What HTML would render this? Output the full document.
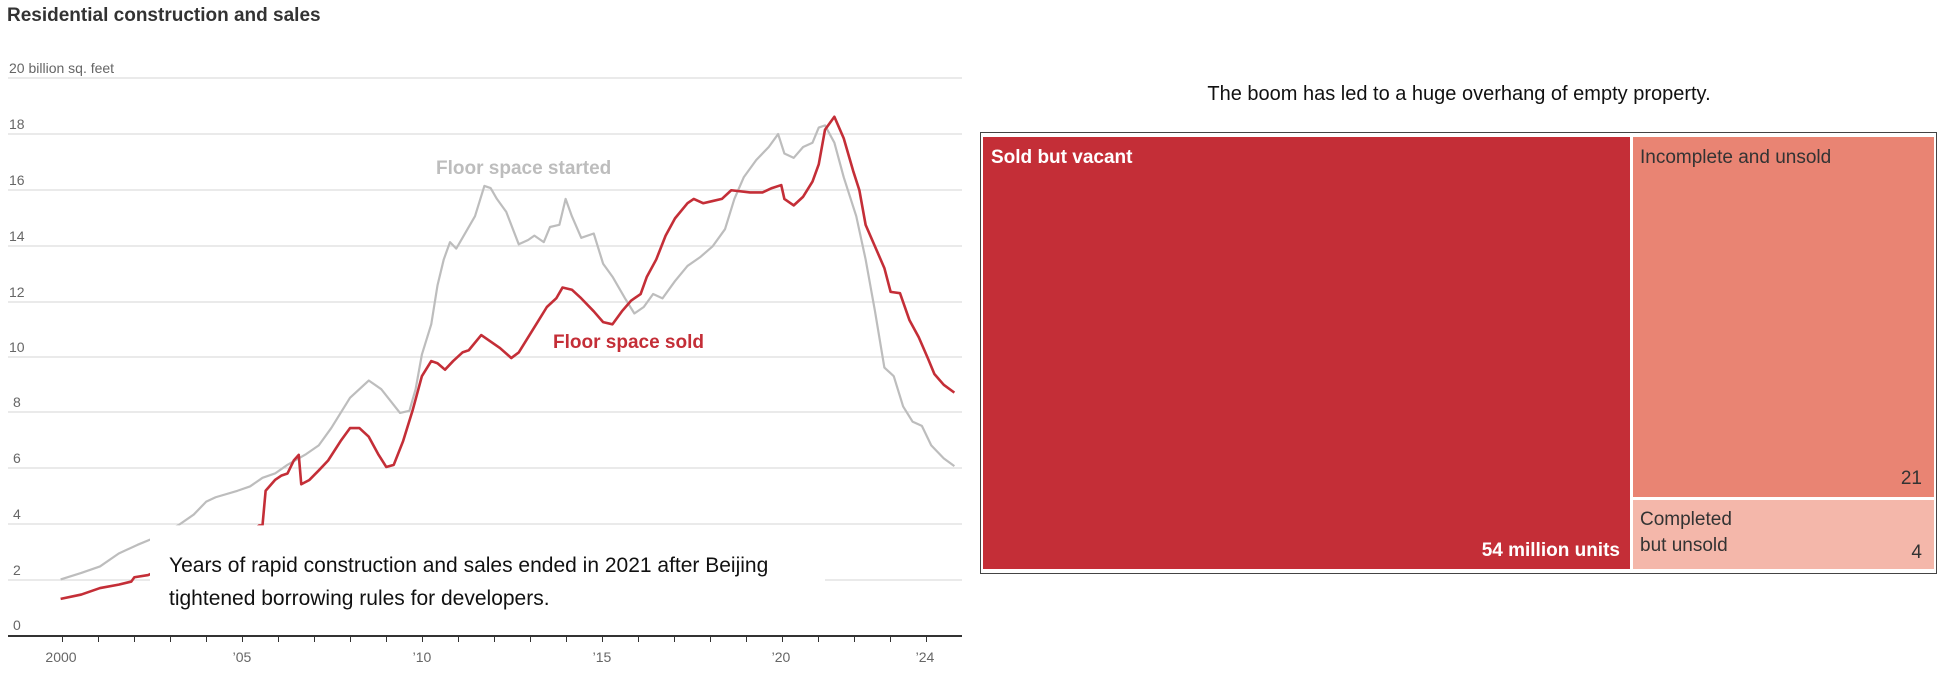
<!DOCTYPE html>
<html><head><meta charset="utf-8"><style>
body{margin:0;width:1947px;height:678px;background:#fff;position:relative;overflow:hidden;font-family:"Liberation Sans Narrow","Liberation Sans",sans-serif;}
.t{position:absolute;white-space:nowrap;}
</style></head><body>
<div class="t" style="left:7px;top:5px;font-size:19px;font-weight:bold;color:#333;">Residential construction and sales</div>
<svg style="position:absolute;left:0;top:0" width="980" height="678">
<g stroke="#ddd" stroke-width="1.3">
<line x1="8" x2="962" y1="78" y2="78"/><line x1="8" x2="962" y1="134" y2="134"/><line x1="8" x2="962" y1="190" y2="190"/><line x1="8" x2="962" y1="246" y2="246"/><line x1="8" x2="962" y1="302" y2="302"/><line x1="8" x2="962" y1="357" y2="357"/><line x1="8" x2="962" y1="412" y2="412"/><line x1="8" x2="962" y1="468" y2="468"/><line x1="8" x2="962" y1="524" y2="524"/><line x1="8" x2="962" y1="580" y2="580"/>
</g>
<g font-size="14" fill="#666" font-family="Liberation Sans Narrow,Liberation Sans,sans-serif">
<text x="9" y="73">20 billion sq. feet</text>
<text x="9" y="129">18</text><text x="9" y="185">16</text><text x="9" y="241">14</text><text x="9" y="297">12</text><text x="9" y="352">10</text><text x="13" y="407">8</text><text x="13" y="463">6</text><text x="13" y="519">4</text><text x="13" y="575">2</text><text x="13" y="630">0</text>
</g>
</svg>
<svg style="position:absolute;left:0;top:0" width="980" height="678" viewBox="0 0 1568 1568" preserveAspectRatio="none">
<polyline fill="none" stroke="#bdbdbd" stroke-width="2.2" vector-effect="non-scaling-stroke" stroke-linejoin="round" points="97,1340 130,1325 160,1310 190,1280 220,1260 245,1245 285,1215 310,1190 330,1160 345,1150 380,1135 400,1125 420,1105 440,1095 460,1075 490,1050 510,1030 530,990 560,920 590,880 610,900 640,955 655,950 665,900 675,820 690,750 700,660 710,600 720,560 730,575 740,550 760,500 775,430 785,435 795,460 810,490 830,565 845,555 855,545 870,560 880,525 895,520 905,460 915,500 930,550 950,540 965,610 980,640 1000,690 1015,725 1030,710 1045,680 1060,690 1080,650 1100,615 1120,595 1140,570 1160,530 1175,460 1190,410 1210,370 1230,340 1245,310 1255,355 1270,365 1285,340 1300,330 1310,295 1320,290 1335,330 1350,410 1370,500 1385,600 1400,720 1415,850 1430,870 1445,940 1460,975 1475,985 1490,1030 1510,1060 1527,1078"/>
<polyline fill="none" stroke="#c42e37" stroke-width="2.6" vector-effect="non-scaling-stroke" stroke-linejoin="round" points="97,1385 130,1375 160,1360 190,1352 210,1345 215,1335 237,1330 300,1290 380,1250 415,1215 420,1215 425,1135 440,1110 450,1100 460,1095 470,1065 478,1052 482,1120 495,1110 510,1088 525,1065 545,1020 560,990 575,990 590,1010 605,1050 618,1080 630,1075 645,1020 660,950 675,870 690,835 700,840 712,855 725,835 740,815 750,810 770,775 785,790 800,805 818,828 830,815 845,780 860,745 875,710 890,690 900,665 915,670 930,690 950,720 965,745 980,750 995,720 1010,695 1025,680 1035,640 1050,600 1065,545 1080,505 1100,470 1110,460 1125,470 1140,465 1155,460 1170,440 1200,445 1220,445 1235,435 1250,428 1255,460 1270,475 1285,455 1300,420 1310,380 1320,300 1335,270 1350,320 1365,395 1375,440 1385,520 1400,570 1415,620 1425,675 1440,678 1455,740 1470,780 1485,830 1495,865 1510,890 1527,908"/>
<rect x="240" y="1215" width="1080" height="225" fill="#fff"/>
</svg>
<svg style="position:absolute;left:0;top:0" width="980" height="678">
<line x1="8" x2="962" y1="636" y2="636" stroke="#333" stroke-width="2"/>
<g stroke="#333" stroke-width="1">
<line x1="62.5" x2="62.5" y1="636" y2="642"/><line x1="98.5" x2="98.5" y1="636" y2="642"/><line x1="134.5" x2="134.5" y1="636" y2="642"/><line x1="170.5" x2="170.5" y1="636" y2="642"/><line x1="206.5" x2="206.5" y1="636" y2="642"/><line x1="242.5" x2="242.5" y1="636" y2="642"/><line x1="278.5" x2="278.5" y1="636" y2="642"/><line x1="314.5" x2="314.5" y1="636" y2="642"/><line x1="350.5" x2="350.5" y1="636" y2="642"/><line x1="386.5" x2="386.5" y1="636" y2="642"/><line x1="422.5" x2="422.5" y1="636" y2="642"/><line x1="458.5" x2="458.5" y1="636" y2="642"/><line x1="494.5" x2="494.5" y1="636" y2="642"/><line x1="530.5" x2="530.5" y1="636" y2="642"/><line x1="566.5" x2="566.5" y1="636" y2="642"/><line x1="602.5" x2="602.5" y1="636" y2="642"/><line x1="638.5" x2="638.5" y1="636" y2="642"/><line x1="674.5" x2="674.5" y1="636" y2="642"/><line x1="710.5" x2="710.5" y1="636" y2="642"/><line x1="746.5" x2="746.5" y1="636" y2="642"/><line x1="782.5" x2="782.5" y1="636" y2="642"/><line x1="818.5" x2="818.5" y1="636" y2="642"/><line x1="854.5" x2="854.5" y1="636" y2="642"/><line x1="890.5" x2="890.5" y1="636" y2="642"/><line x1="926.5" x2="926.5" y1="636" y2="642"/>
</g>
<g font-size="14" fill="#666" text-anchor="middle" font-family="Liberation Sans Narrow,Liberation Sans,sans-serif">
<text x="61" y="662">2000</text><text x="242" y="662">’05</text><text x="422" y="662">’10</text><text x="602" y="662">’15</text><text x="781" y="662">’20</text><text x="925" y="662">’24</text>
</g>
<text x="436" y="174" font-size="19" font-weight="bold" fill="#bdbdbd" font-family="Liberation Sans Narrow,Liberation Sans,sans-serif">Floor space started</text>
<text x="553" y="348" font-size="19" font-weight="bold" fill="#c42e37" font-family="Liberation Sans Narrow,Liberation Sans,sans-serif">Floor space sold</text>
<text x="169" y="572" font-size="21" fill="#111" font-family="Liberation Sans Narrow,Liberation Sans,sans-serif">Years of rapid construction and sales ended in 2021 after Beijing</text>
<text x="169" y="605" font-size="21" fill="#111" font-family="Liberation Sans Narrow,Liberation Sans,sans-serif">tightened borrowing rules for developers.</text>
</svg>
<div class="t" style="left:1190px;top:83px;width:538px;text-align:center;font-size:20px;color:#111;">The boom has led to a huge overhang of empty property.</div>
<div style="position:absolute;left:980px;top:132px;width:955px;height:440px;border:1.5px solid #444;"></div>
<div style="position:absolute;left:983px;top:137px;width:647px;height:432px;background:#c42e37;"></div>
<div style="position:absolute;left:1633px;top:137px;width:301px;height:360px;background:#e98473;"></div>
<div style="position:absolute;left:1633px;top:500px;width:301px;height:69px;background:#f4b7aa;"></div>
<div class="t" style="left:991px;top:147px;font-size:19px;font-weight:bold;color:#fff;">Sold but vacant</div>
<div class="t" style="left:1400px;top:540px;width:220px;text-align:right;font-size:19px;font-weight:bold;color:#fff;">54 million units</div>
<div class="t" style="left:1640px;top:147px;font-size:19px;color:#333;">Incomplete and unsold</div>
<div class="t" style="left:1880px;top:468px;width:42px;text-align:right;font-size:19px;color:#333;">21</div>
<div class="t" style="left:1640px;top:507px;font-size:19px;color:#333;line-height:26px;">Completed<br>but unsold</div>
<div class="t" style="left:1880px;top:542px;width:42px;text-align:right;font-size:19px;color:#333;">4</div>
</body></html>
